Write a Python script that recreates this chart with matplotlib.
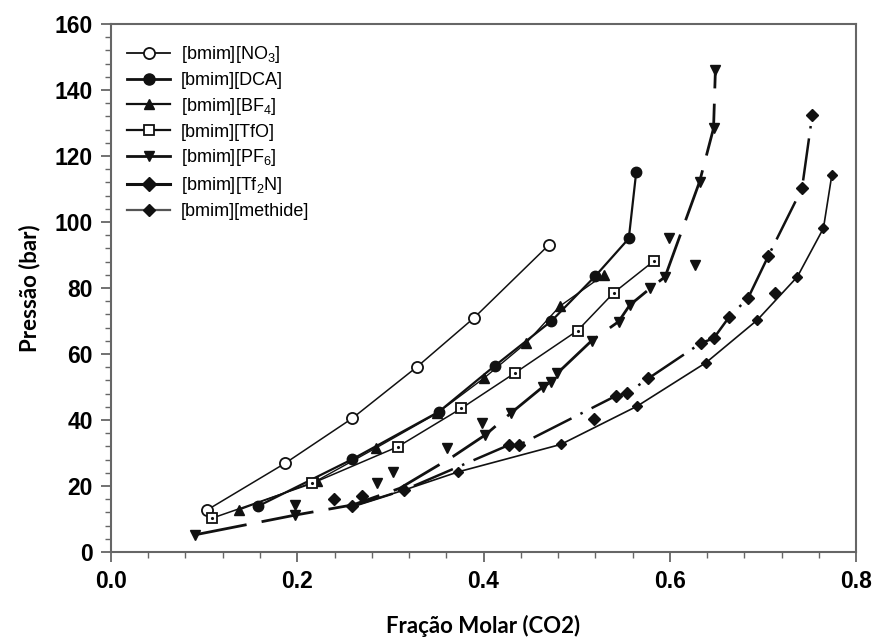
import matplotlib
matplotlib.use('Agg')
import matplotlib.pyplot as plt
from matplotlib.lines import Line2D
from matplotlib.ticker import MultipleLocator, FormatStrFormatter

plt.rcParams['font.family'] = ['Liberation Sans', 'DejaVu Sans']
plt.rcParams['mathtext.default'] = 'regular'

# [bmim][NO3]
no3_x = [0.103, 0.187, 0.259, 0.329, 0.390, 0.470]
no3_p = [12.7, 26.9, 40.5, 56.2, 71.0, 93.0]

# [bmim][DCA]
dca_x = [0.158, 0.259, 0.352, 0.412, 0.473, 0.520, 0.556, 0.564]
dca_p = [13.9, 28.1, 42.5, 56.4, 70.0, 83.6, 95.0, 115.2]

# [bmim][BF4]
bf4_x = [0.137, 0.221, 0.285, 0.350, 0.401, 0.446, 0.482, 0.529]
bf4_p = [12.7, 21.6, 31.6, 42.0, 52.8, 63.4, 74.5, 83.9]

# [bmim][TfO]
tfo_x = [0.108, 0.216, 0.308, 0.376, 0.434, 0.501, 0.540, 0.583]
tfo_p = [10.2, 20.8, 31.9, 43.5, 54.3, 67.1, 78.6, 88.2]

# [bmim][PF6] - fitted curve, markers only where measured
pf6_x = [0.090, 0.198, 0.260, 0.310, 0.367, 0.402, 0.429, 0.464, 0.473, 0.479,
         0.516, 0.545, 0.557, 0.579, 0.595, 0.632, 0.647, 0.649]
pf6_p = [5.2, 11.2, 14.3, 19.3, 28.9, 35.5, 42.0, 50.1, 51.6, 54.1,
         64.0, 69.8, 74.8, 79.9, 83.4, 112.2, 128.4, 146.1]
pf6_marked = [0, 1, 5, 6, 7, 8, 9, 10, 11, 12, 13, 14, 15, 16, 17]
# other PF6 points off the curve
pf6b_x = [0.198, 0.286, 0.303, 0.361, 0.398, 0.599, 0.627]
pf6b_p = [14.2, 21.0, 24.3, 31.4, 39.2, 95.1, 87.0]

# [bmim][Tf2N]
tf2n_x = [0.259, 0.315, 0.427, 0.438, 0.542, 0.554, 0.577, 0.634, 0.647,
          0.664, 0.684, 0.706, 0.742, 0.753]
tf2n_p = [13.8, 18.8, 32.4, 32.4, 47.3, 48.1, 52.6, 63.4, 64.7,
          71.3, 76.9, 89.8, 110.2, 132.4]
tf2nb_x = [0.239, 0.269, 0.519, 0.713]
tf2nb_p = [16.0, 17.0, 40.2, 78.4]

# [bmim][methide]
meth_x = [0.259, 0.315, 0.373, 0.483, 0.565, 0.639, 0.694, 0.737, 0.765, 0.774]
meth_p = [13.8, 18.8, 24.3, 32.6, 44.2, 57.4, 70.3, 83.4, 98.1, 114.2]

labels = ['[bmim][NO$_3$]', '[bmim][DCA]', '[bmim][BF$_4$]', '[bmim][TfO]',
          '[bmim][PF$_6$]', '[bmim][Tf$_2$N]', '[bmim][methide]']

k = '#111111'
fig = plt.figure(figsize=(8.76, 6.43), dpi=100)
ax = fig.add_axes([0.1267, 0.1415, 0.8505, 0.8212])

ax.plot(no3_x, no3_p, color=k, lw=1.1, marker='o', ms=8, mfc='white', mec=k, mew=1.3)
ax.plot(dca_x, dca_p, color=k, lw=1.6, marker='o', ms=7.5, mfc=k, mec=k)
ax.plot(bf4_x, bf4_p, color=k, lw=1.0, marker='^', ms=6.5, mfc=k, mec=k)
ax.plot(tfo_x, tfo_p, color=k, lw=1.1, marker='s', ms=7, mfc='white', mec=k, mew=1.3)
ax.plot(tfo_x, tfo_p, ls='none', marker='.', ms=2.5, color=k)
ax.plot(pf6_x, pf6_p, color=k, lw=2.0, ls=(0, (19, 5.5)), marker='v', ms=7,
        mfc=k, mec=k, markevery=pf6_marked)
ax.plot(pf6b_x, pf6b_p, ls='none', marker='v', ms=7, mfc=k, mec=k)
ax.plot(tf2n_x, tf2n_p, color=k, lw=1.8, ls=(0, (17, 4, 1, 4)), marker='D', ms=6,
        mfc=k, mec=k)
ax.plot(tf2nb_x, tf2nb_p, ls='none', marker='D', ms=6, mfc=k, mec=k)
ax.plot(meth_x, meth_p, color=k, lw=1.2, marker='D', ms=5.5, mfc=k, mec=k)

handles = [
    Line2D([], [], color=k, lw=1.3, marker='o', ms=8, mfc='white', mec=k, mew=1.3),
    Line2D([], [], color=k, lw=2.0, marker='o', ms=8, mfc=k, mec=k),
    Line2D([], [], color=k, lw=1.6, marker='^', ms=7, mfc=k, mec=k),
    Line2D([], [], color=k, lw=1.6, marker='s', ms=7, mfc='white', mec=k, mew=1.3),
    Line2D([], [], color=k, lw=2.0, marker='v', ms=7.5, mfc=k, mec=k),
    Line2D([], [], color=k, lw=2.2, marker='D', ms=7, mfc=k, mec=k),
    Line2D([], [], color='#555555', lw=1.6, marker='D', ms=6, mfc=k, mec=k),
]
ax.legend(handles, labels, loc='upper left', bbox_to_anchor=(0.022, 0.962),
          frameon=False, fontsize=13, handlelength=2.35, handletextpad=0.6,
          labelspacing=0.38, borderpad=0, borderaxespad=0)

ax.set_xlim(0, 0.8)
ax.set_ylim(0, 160)
ax.xaxis.set_major_locator(MultipleLocator(0.2))
ax.xaxis.set_minor_locator(MultipleLocator(0.04))
ax.yaxis.set_major_locator(MultipleLocator(20))
ax.yaxis.set_minor_locator(MultipleLocator(4))
ax.xaxis.set_major_formatter(FormatStrFormatter('%.1f'))

for s in ax.spines.values():
    s.set_color('#666666')
    s.set_linewidth(1.5)
ax.tick_params(which='major', direction='out', length=7, width=1.3, color='#666666',
               labelsize=16.5, pad=6)
ax.tick_params(which='minor', direction='out', length=4, width=1.0, color='#666666')
for t in ax.get_xticklabels() + ax.get_yticklabels():
    t.set_fontweight('bold')

ax.set_xlabel('Fração Molar (CO2)', family=['Lato', 'DejaVu Sans'], fontweight='bold',
              fontsize=16, labelpad=16)
ax.set_ylabel('Pressão (bar)', family=['Lato', 'DejaVu Sans'], fontweight='bold',
              fontsize=16, labelpad=10)

fig.savefig('out.png', dpi=100)
